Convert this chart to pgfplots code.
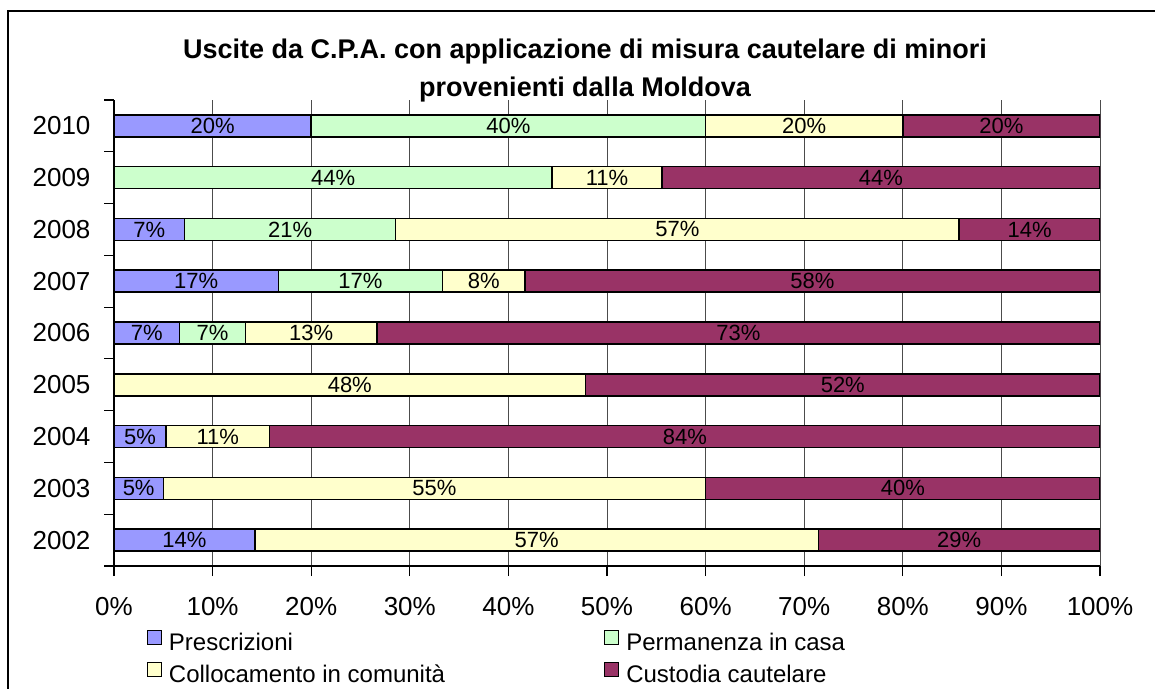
\documentclass[border=0pt]{standalone}
\usepackage{pgfplots}
\pgfplotsset{compat=1.18}
\usepackage{pgfplotstable}
\usepackage{fontspec}
\setmainfont{Liberation Sans}
\definecolor{cP}{HTML}{9999FF}
\definecolor{cA}{HTML}{CCFFCC}
\definecolor{cC}{HTML}{FFFFCC}
\definecolor{cK}{HTML}{993366}
\pgfplotstableread{
y P A C K
0 14.2857 0 57.1429 28.5714
1 5 0 55 40
2 5.2632 0 10.5263 84.2105
3 0 0 47.8261 52.1739
4 6.6667 6.6667 13.3333 73.3333
5 16.6667 16.6667 8.3333 58.3333
6 7.1429 21.4286 57.1428 14.2857
7 0 44.4444 11.1111 44.4444
8 20 40 20 20
}\data
\begin{document}
\begin{tikzpicture}[x=1pt,y=1pt]
\clip (0,0) rectangle (1155,688);
\fill[white] (0,0) rectangle (1155,688);
\draw[line width=1.5pt] (8,-20) -- (8,677) -- (1180,677);
\node[font=\fontsize{27}{38}\selectfont\bfseries, align=center] at (585,617) {Uscite da C.P.A. con applicazione di misura cautelare di minori\\provenienti dalla Moldova};
\begin{axis}[
 at={(114pt,122pt)}, anchor=south west,
 scale only axis, width=986pt, height=466pt,
 xbar stacked, bar width=22pt,
 xmin=0, xmax=100, ymin=-0.5, ymax=8.5,
 axis x line*=bottom, axis y line*=left,
 axis line style={line width=1.2pt},
 /pgf/number format/assume math mode=true,
 xtick={0,10,...,100}, xticklabel={\pgfmathprintnumber{\tick}\%},
 ytick={-0.5,0.5,...,8.5}, y tick label as interval,
 yticklabels={2002,2003,2004,2005,2006,2007,2008,2009,2010},
 xmajorgrids=true, grid style={black!70, line width=0.9pt},
 tick style={black, line width=1.2pt}, major tick length=10pt, tick align=outside,
 ticklabel style={font=\fontsize{26}{30}\selectfont},
 yticklabel style={xshift=-10pt},
 xticklabel style={yshift=-18pt},
 every axis plot/.append style={draw=black, line width=1.5pt},
 point meta=explicit,
 nodes near coords={\pgfmathfloatifflags{\pgfplotspointmeta}{0}{}{\pgfmathprintnumber[fixed,precision=0]{\pgfplotspointmeta}\%}},
 every node near coord/.append style={font=\fontsize{22}{24}\selectfont, black},
 legend columns=2,
 legend cell align=left,
 legend style={at={(0.03,-0.133)}, anchor=north west, draw=none, fill=none,
   font=\fontsize{24}{27}\selectfont, nodes={inner sep=3pt},
   /tikz/row sep=7pt,
   /tikz/every odd column/.style={column sep=4pt},
   /tikz/every even column/.style={column sep=156pt}},
 legend image code/.code={\draw[#1,draw=black,line width=1.2pt] (-2pt,-2pt) rectangle (12pt,12pt);},
]
\addplot[fill=cP] table[x=P, y=y, meta=P] {\data};
\addplot[fill=cA] table[x=A, y=y, meta=A] {\data};
\addplot[fill=cC] table[x=C, y=y, meta=C] {\data};
\addplot[fill=cK] table[x=K, y=y, meta=K] {\data};
\legend{Prescrizioni, Permanenza in casa, Collocamento in comunità, Custodia cautelare}
\end{axis}
\end{tikzpicture}
\end{document}
